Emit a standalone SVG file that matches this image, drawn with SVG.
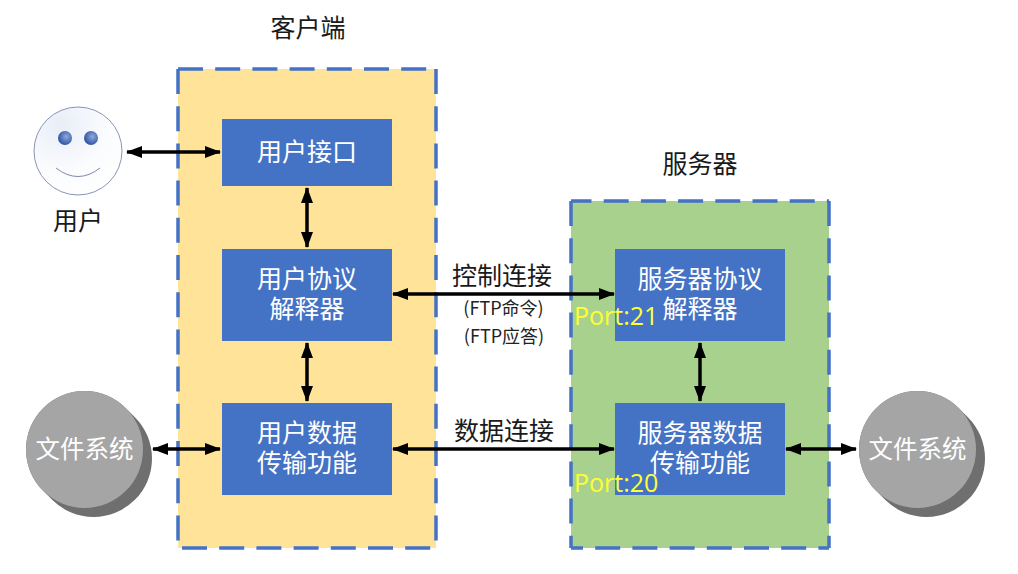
<svg xmlns="http://www.w3.org/2000/svg" width="1018" height="574" viewBox="0 0 1018 574">
<style>
text{font-family:"Noto Sans CJK SC","Noto Sans",sans-serif;text-anchor:middle}
.zone{stroke:#4472c4;stroke-width:3.5;stroke-dasharray:25 12.2;fill:none}
.box{fill:#4472c4}
.w{fill:#fff;font-size:25px}
.f{fill:#fff;font-size:24.500px}
.b{fill:#1a1a1a;font-size:25px}
.s{fill:#222;font-size:18px}
.y{fill:#ffff33;font-size:25px;text-anchor:start;font-family:"Open Sans",sans-serif}
.c{stroke:#000;stroke-width:3.5;fill:none;marker-start:url(#ah);marker-end:url(#ah)}
.drum{stroke:#6f6f6f;stroke-width:117;fill:none}
.disc{fill:#a5a5a5}
</style>
<defs>
<marker id="ah" viewBox="0 0 16 12" refX="15" refY="6" markerWidth="16" markerHeight="12" markerUnits="userSpaceOnUse" orient="auto-start-reverse"><path d="M0 0L16 6L0 12Z" fill="#000"/></marker>
<radialGradient id="face" cx="0.3" cy="0.2" r="0.9"><stop offset="0" stop-color="#e8edf7"/><stop offset="0.6" stop-color="#fbfcfe"/><stop offset="1" stop-color="#fff"/></radialGradient>
<radialGradient id="eye" cx="0.6" cy="0.4" r="0.6"><stop offset="0" stop-color="#8ea9dc"/><stop offset="1" stop-color="#2f55a4"/></radialGradient>
</defs>
<rect width="1018" height="574" fill="#fff"/>
<g id="client">
<rect x="178" y="69" width="258" height="479" fill="#ffe399"/>
<path class="zone" d="M178 69H436"/><path class="zone" d="M178 69V548"/><path class="zone" d="M436 69V548"/>
<path class="zone" d="M178 548H436" stroke-dashoffset="33.2"/>
<text class="b" x="308" y="37">客户端</text>
</g>
<g id="server">
<rect x="571" y="201" width="258" height="347" fill="#a9d18e"/>
<path class="zone" d="M571 201H829" stroke-dashoffset="4.5"/><path class="zone" d="M571 201V548"/><path class="zone" d="M829 201V548"/>
<path class="zone" d="M571 548H829" stroke-dashoffset="13"/>
<text class="b" x="700" y="173">服务器</text>
</g>
<g id="user"><circle cx="78" cy="151" r="44" fill="url(#face)" stroke="#8a93b5" stroke-width="1"/><circle cx="65" cy="138" r="7" fill="url(#eye)"/><circle cx="91" cy="138" r="7" fill="url(#eye)"/><path d="M56 168Q78 185 100 168" fill="none" stroke="#7f88ab" stroke-width="1"/><text class="b" x="78" y="230">用户</text></g>
<g id="fs-left"><path class="drum" d="M84.500 449.500L93.500 458.500" stroke-linecap="round"/><circle class="disc" cx="84.500" cy="449.500" r="58.500"/><text class="f" x="84.500" y="458">文件系统</text></g>
<g id="fs-right"><path class="drum" d="M917.500 449.500L926.500 458.500" stroke-linecap="round"/><circle class="disc" cx="917.500" cy="449.500" r="58.500"/><text class="f" x="917.500" y="458">文件系统</text></g>
<g id="user-interface"><rect class="box" x="222" y="119" width="170" height="67"/><text class="w" x="307" y="161">用户接口</text></g>
<g id="user-pi"><rect class="box" x="222" y="249" width="170" height="92"/><text class="w" x="307" y="288">用户协议</text><text class="w" x="307" y="318">解释器</text></g>
<g id="user-dtp"><rect class="box" x="222" y="403" width="170" height="92"/><text class="w" x="307" y="442">用户数据</text><text class="w" x="307" y="472">传输功能</text></g>
<g id="server-pi"><rect class="box" x="615" y="249" width="170" height="92"/><text class="w" x="700" y="288">服务器协议</text><text class="w" x="700" y="318">解释器</text></g>
<g id="server-dtp"><rect class="box" x="615" y="403" width="170" height="92"/><text class="w" x="700" y="442">服务器数据</text><text class="w" x="700" y="472">传输功能</text></g>
<g id="connectors">
<path class="c" d="M127 152H220"/>
<path class="c" d="M153 449H220"/>
<path class="c" d="M786 449H856"/>
<path class="c" d="M307 188V247"/>
<path class="c" d="M307 343V401"/>
<path class="c" d="M700 343V401"/>
<path class="c" d="M393 294H614"/>
<path class="c" d="M393 449H614"/>
</g>
<g id="labels">
<text class="b" x="502" y="285">控制连接</text>
<text class="s" x="503.500" y="315">(FTP命令)</text>
<text class="s" x="504" y="343">(FTP应答)</text>
<text class="b" x="504" y="440">数据连接</text>
<text class="y" x="574" y="325">Port:21</text>
<text class="y" x="574" y="492">Port:20</text>
</g>
</svg>
